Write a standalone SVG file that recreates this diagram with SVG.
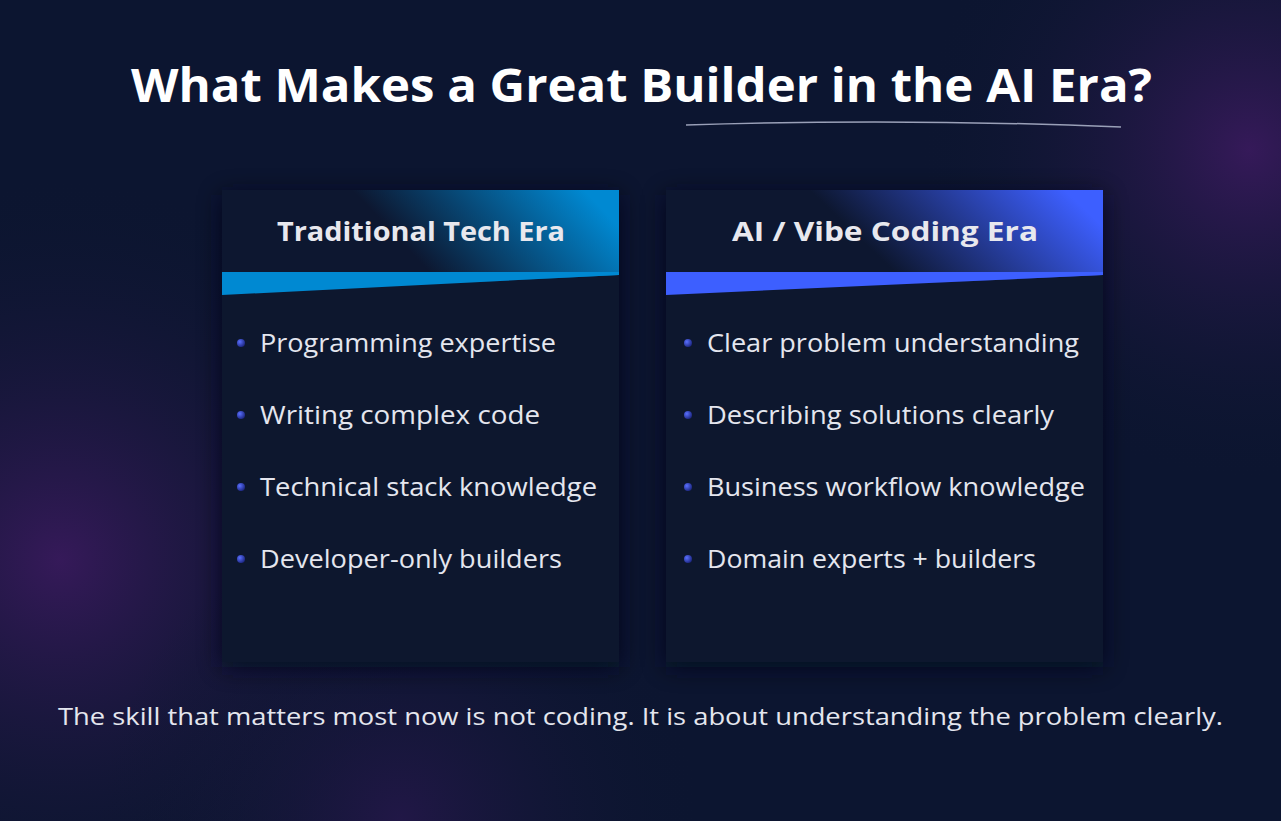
<svg xmlns="http://www.w3.org/2000/svg" width="1281" height="821" viewBox="0 0 1281 821">
<defs>
<radialGradient id="g1" cx="1250" cy="150" r="330" gradientUnits="userSpaceOnUse"><stop offset="0" stop-color="#3a1a5e" stop-opacity="0.9"/><stop offset="1" stop-color="#0d1730" stop-opacity="0"/></radialGradient>
<radialGradient id="g2" cx="60" cy="560" r="380" gradientUnits="userSpaceOnUse"><stop offset="0" stop-color="#3a1a5e" stop-opacity="0.9"/><stop offset="1" stop-color="#0d1730" stop-opacity="0"/></radialGradient>
<radialGradient id="g3" cx="400" cy="820" r="300" gradientUnits="userSpaceOnUse"><stop offset="0" stop-color="#2a1850" stop-opacity="0.7"/><stop offset="1" stop-color="#0d1730" stop-opacity="0"/></radialGradient>
<linearGradient id="h1" x1="0" y1="0.6" x2="1" y2="0.35"><stop offset="0.45" stop-color="#0d1730"/><stop offset="1" stop-color="#0089d2"/></linearGradient>
<linearGradient id="h2" x1="0" y1="0.6" x2="1" y2="0.35"><stop offset="0.45" stop-color="#0d1730"/><stop offset="1" stop-color="#3d5fff"/></linearGradient>
<radialGradient id="dot" cx="0.35" cy="0.35" r="0.7"><stop offset="0" stop-color="#5a70ff"/><stop offset="1" stop-color="#1c2680"/></radialGradient>
<filter id="sh" x="-20%" y="-20%" width="140%" height="140%"><feGaussianBlur stdDeviation="12"/></filter>
</defs>
<style>
.title{font-family:"Open Sans","Noto Sans",sans-serif;font-weight:700;font-size:46px;fill:#ffffff}
.hd{font-family:"Open Sans","Noto Sans",sans-serif;font-weight:700;font-size:27px;fill:#e8e8ee}
.it{font-family:"Open Sans","Noto Sans",sans-serif;font-size:25px;fill:#e4e6ee}
.ft{font-family:"Open Sans","Noto Sans",sans-serif;font-size:23px;fill:#e4e6ee}
.card{fill:#0d172e}
</style>
<rect width="1281" height="821" fill="#0c1530"/>
<rect width="1281" height="821" fill="url(#g1)"/>
<rect width="1281" height="821" fill="url(#g2)"/>
<rect width="1281" height="821" fill="url(#g3)"/>
<text class="title" x="131" y="102" textLength="1021" lengthAdjust="spacingAndGlyphs">What Makes a Great Builder in the AI Era?</text>
<path d="M686 125 Q900 118 1121 127" fill="none" stroke="#9aa0b8" stroke-width="1.5"/>
<g id="card-traditional">
<rect x="222" y="195" width="397" height="472" fill="#050b1a" filter="url(#sh)" opacity="0.8"/>
<rect class="card" x="222" y="190" width="397" height="472"/>
<path d="M222 190H619V275L222 295Z" fill="url(#h1)"/>
<path d="M222 272H619V275L222 295Z" fill="#0089d2"/>
<text class="hd" x="277" y="241" textLength="288" lengthAdjust="spacingAndGlyphs">Traditional Tech Era</text>
<g class="it">
<circle cx="241" cy="343" r="4" fill="url(#dot)"/><text x="260" y="352" textLength="296" lengthAdjust="spacingAndGlyphs">Programming expertise</text>
<circle cx="241" cy="415" r="4" fill="url(#dot)"/><text x="260" y="424" textLength="280" lengthAdjust="spacingAndGlyphs">Writing complex code</text>
<circle cx="241" cy="487" r="4" fill="url(#dot)"/><text x="260" y="496" textLength="337" lengthAdjust="spacingAndGlyphs">Technical stack knowledge</text>
<circle cx="241" cy="559" r="4" fill="url(#dot)"/><text x="260" y="568" textLength="302" lengthAdjust="spacingAndGlyphs">Developer-only builders</text>
</g>
</g>
<g id="card-ai">
<rect x="666" y="195" width="437" height="472" fill="#050b1a" filter="url(#sh)" opacity="0.8"/>
<rect class="card" x="666" y="190" width="437" height="472"/>
<path d="M666 190H1103V275L666 295Z" fill="url(#h2)"/>
<path d="M666 272H1103V275L666 295Z" fill="#3d5fff"/>
<text class="hd" x="732" y="241" textLength="306" lengthAdjust="spacingAndGlyphs">AI / Vibe Coding Era</text>
<g class="it">
<circle cx="688" cy="343" r="4" fill="url(#dot)"/><text x="707" y="352" textLength="372" lengthAdjust="spacingAndGlyphs">Clear problem understanding</text>
<circle cx="688" cy="415" r="4" fill="url(#dot)"/><text x="707" y="424" textLength="347" lengthAdjust="spacingAndGlyphs">Describing solutions clearly</text>
<circle cx="688" cy="487" r="4" fill="url(#dot)"/><text x="707" y="496" textLength="378" lengthAdjust="spacingAndGlyphs">Business workflow knowledge</text>
<circle cx="688" cy="559" r="4" fill="url(#dot)"/><text x="707" y="568" textLength="329" lengthAdjust="spacingAndGlyphs">Domain experts + builders</text>
</g>
</g>
<text class="ft" x="58" y="725" textLength="1165" lengthAdjust="spacingAndGlyphs">The skill that matters most now is not coding. It is about understanding the problem clearly.</text>
</svg>
